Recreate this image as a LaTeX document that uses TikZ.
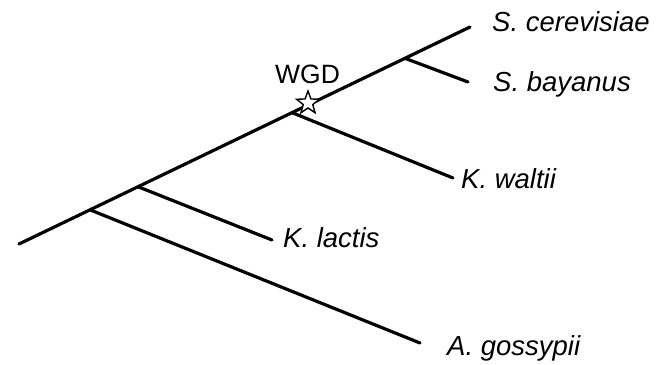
\documentclass[tikz,border=0pt]{standalone}
\usepackage{fontspec}
\setmainfont{Liberation Sans}
\usetikzlibrary{shapes.geometric}
\begin{document}
\begin{tikzpicture}[x=1pt,y=-1pt,
  branch/.style={line width=3.2pt,line cap=round},
  taxon/.style={anchor=base west,inner sep=0pt,font=\fontsize{27.5}{32}\selectfont\itshape},
  event/.style={anchor=base west,inner sep=0pt,font=\fontsize{26.5}{30}\selectfont},
  wgdstar/.style={star,star points=5,star point ratio=2.4,minimum size=24pt,
    inner sep=0pt,draw,line width=1.4pt,fill=white}]
\useasboundingbox (0,0) rectangle (658,364);
% internal nodes on the backbone
\coordinate (root) at (19,244);
\coordinate (tip) at (470,27);
\coordinate (nA) at (90,209.8);
\coordinate (nK) at (138,186.7);
\coordinate (nW) at (292,112.6);
\coordinate (nS) at (405,58.3);
% branch ends
\coordinate (eSb) at (468,82);
\coordinate (eKw) at (453,178);
\coordinate (eKl) at (272,240);
\coordinate (eAg) at (420,343);
% tree
\draw[branch] (root) -- (tip);
\draw[branch] (nS) -- (eSb);
\draw[branch] (nW) -- (eKw);
\draw[branch] (nK) -- (eKl);
\draw[branch] (nA) -- (eAg);
% whole-genome duplication marker
\node[wgdstar] (star) at (308,103) {};
\node[event] (wgd) at (275,83) {WGD};
% leaf labels
\node[taxon] (scer) at (492,31) {S. cerevisiae};
\node[taxon] (sbay) at (493,91) {S. bayanus};
\node[taxon] (kwal) at (461,188) {K. waltii};
\node[taxon] (klac) at (283,247) {K. lactis};
\node[taxon] (agos) at (447,355) {A. gossypii};
\end{tikzpicture}
\end{document}
